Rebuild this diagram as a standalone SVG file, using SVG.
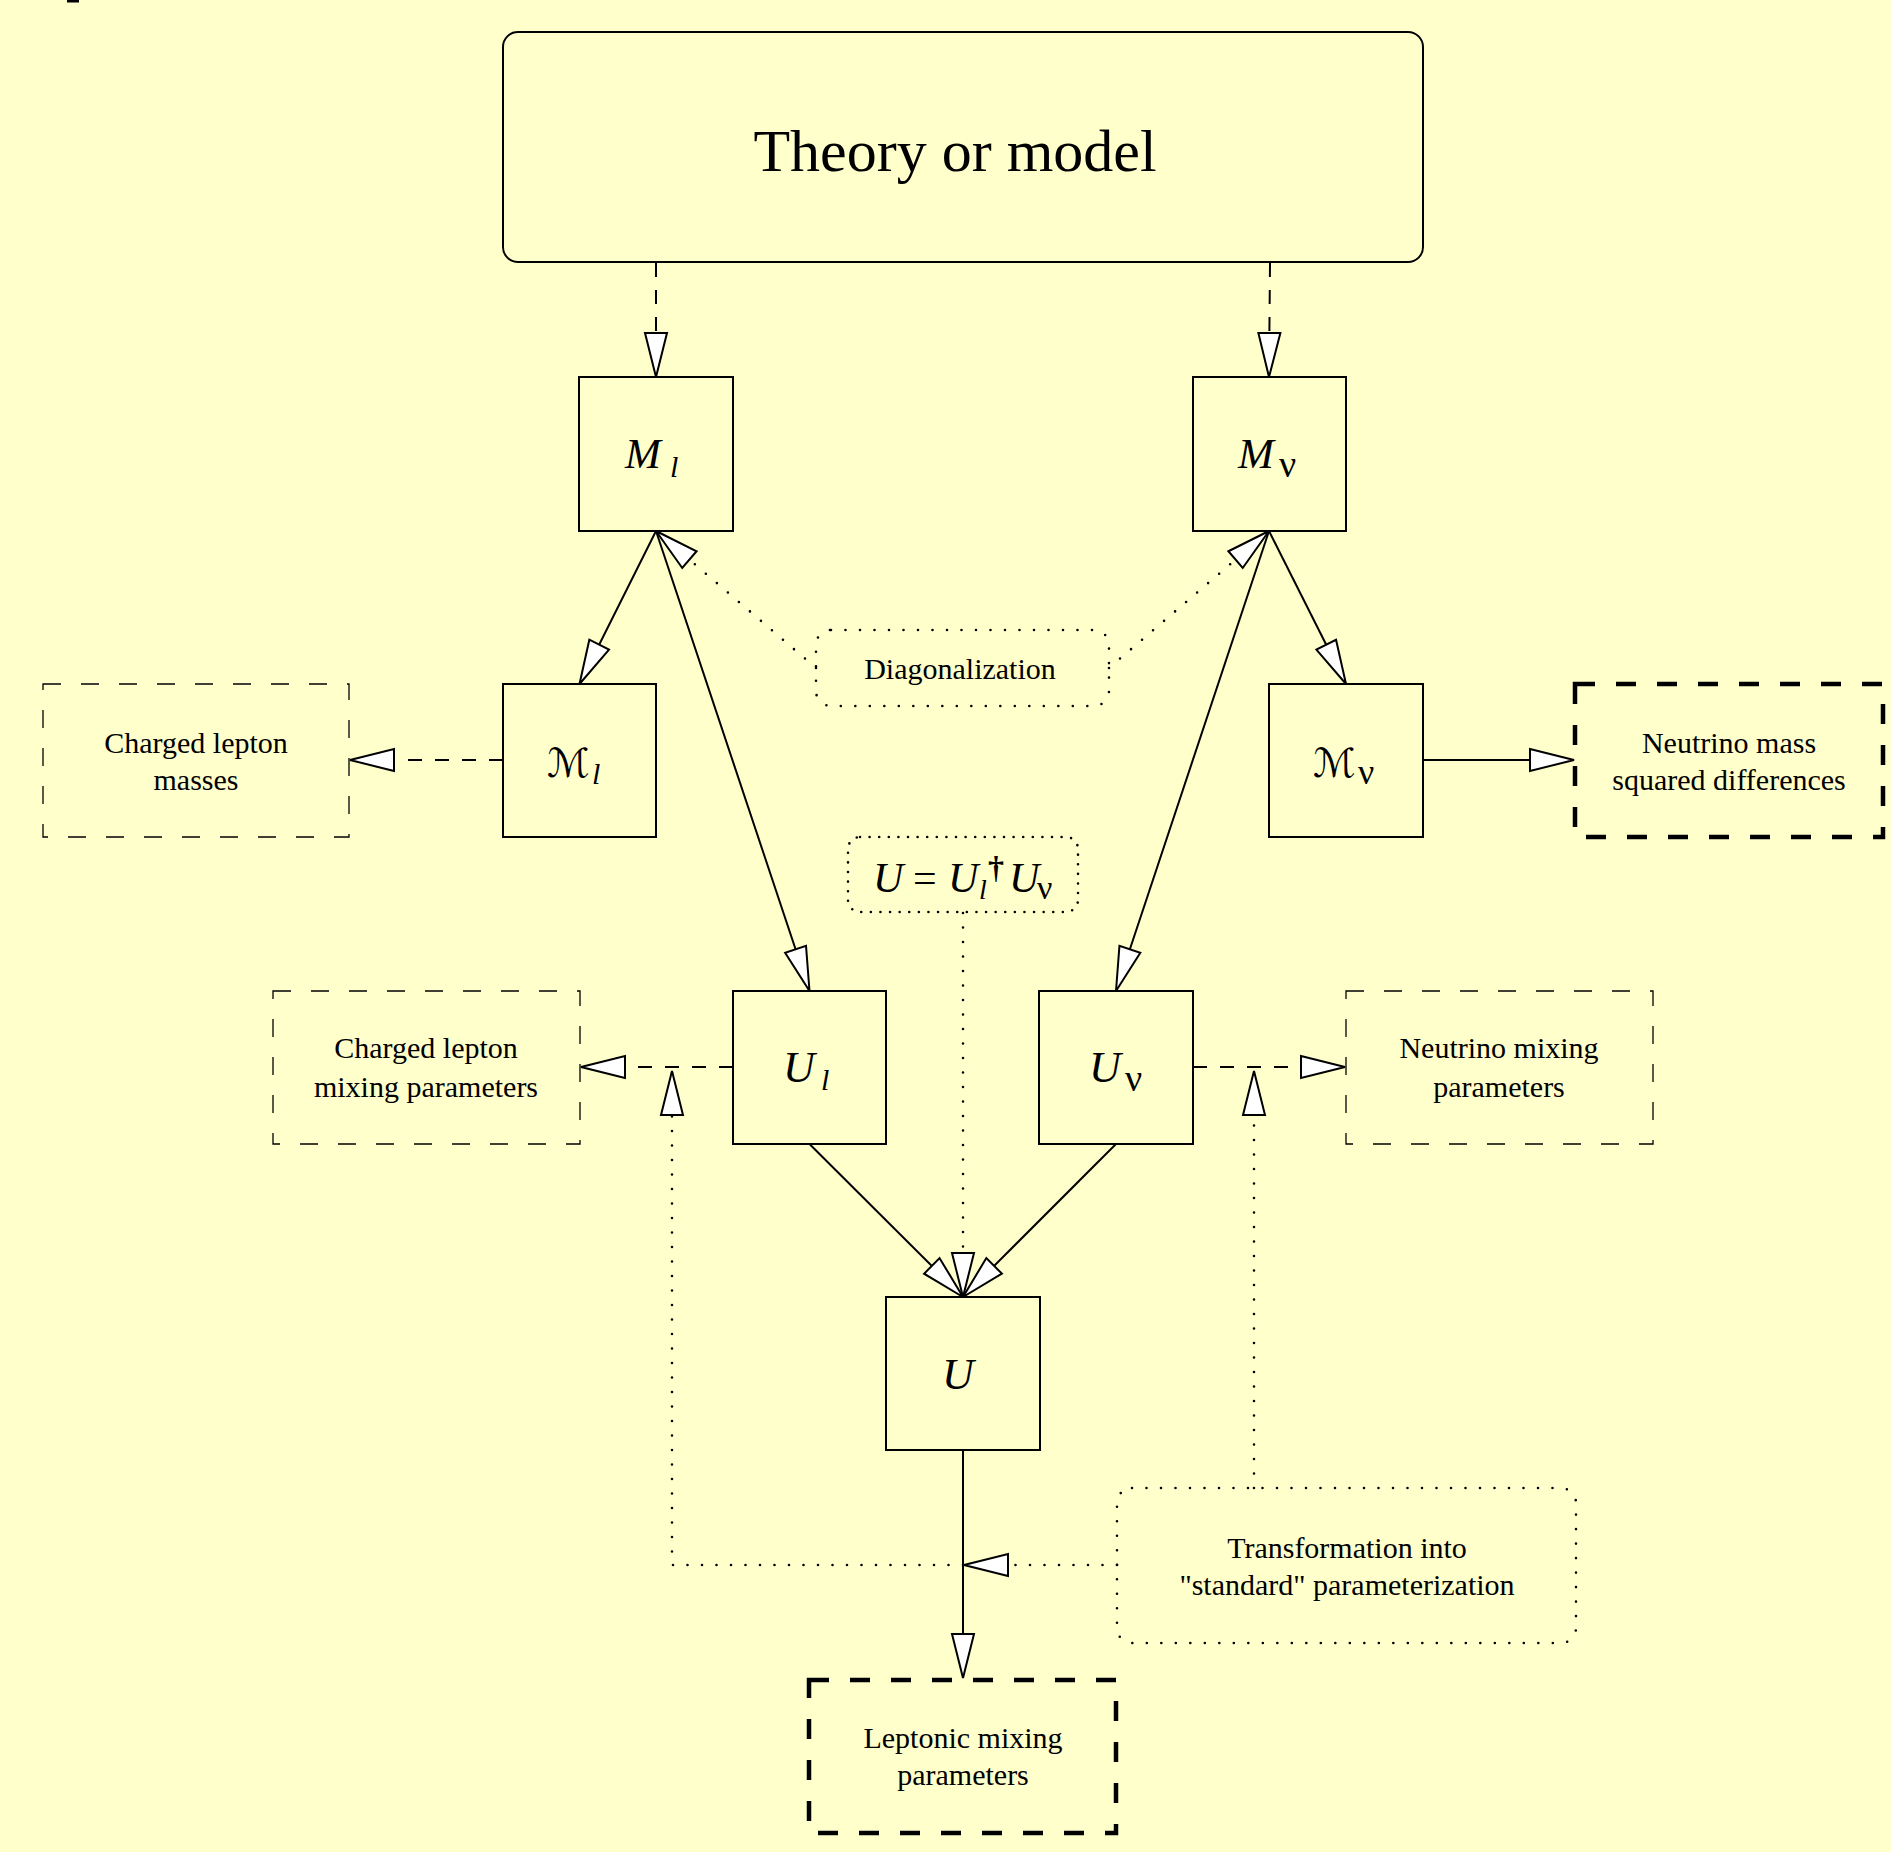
<svg xmlns="http://www.w3.org/2000/svg" width="1891" height="1852" viewBox="0 0 1891 1852">
<defs>
<style>
.box{fill:none;stroke:#000;stroke-width:2}
.thin{fill:none;stroke:#000;stroke-width:1.3;stroke-dasharray:18 20}
.thick{fill:none;stroke:#000;stroke-width:4.5;stroke-dasharray:20 21}
.dotbox{fill:none;stroke:#000;stroke-width:2.6;stroke-linecap:round;stroke-dasharray:0 14.5}
.dotbox2{fill:none;stroke:#000;stroke-width:2.6;stroke-linecap:round;stroke-dasharray:0 9.6}
.solid{fill:none;stroke:#000;stroke-width:2}
.dash{fill:none;stroke:#000;stroke-width:2;stroke-dasharray:14 13}
.dot{fill:none;stroke:#000;stroke-width:2.6;stroke-linecap:round;stroke-dasharray:0 14.5}
.t{font-family:"Liberation Serif","Times New Roman",serif;font-size:30px;fill:#000;text-anchor:middle}
.m{font-family:"Liberation Serif","Times New Roman",serif;font-style:italic;fill:#000}
.u{font-family:"Liberation Serif","Times New Roman",serif;fill:#000}
.cal{font-family:"DejaVu Serif","DejaVu Sans",serif;fill:#000}
</style>
<marker id="ah" viewBox="-2 -2 48 26" refX="44" refY="11" markerWidth="48" markerHeight="26" orient="auto" markerUnits="userSpaceOnUse">
<path d="M0,0 L44,11 L0,22 Z" fill="#fff" stroke="#000" stroke-width="2" stroke-dasharray="none"/>
</marker>
</defs>
<rect x="0" y="0" width="1891" height="1852" fill="#ffffcc"/>
<rect x="67" y="0" width="12" height="2.5" fill="#000"/>

<g id="connectors">
<path class="dash" d="M656,263 L656,377" marker-end="url(#ah)"/>
<path class="dash" d="M1270,263 L1269,377" marker-end="url(#ah)"/>
<path class="solid" d="M656,531 L579.5,684" marker-end="url(#ah)"/>
<path class="solid" d="M656,531 L809.5,991" marker-end="url(#ah)"/>
<path class="solid" d="M1269,531 L1346,684" marker-end="url(#ah)"/>
<path class="solid" d="M1269,531 L1116,991" marker-end="url(#ah)"/>
<path class="dot" d="M816,668 L656,531" marker-end="url(#ah)"/>
<path class="dot" d="M1109,668 L1269,531" marker-end="url(#ah)"/>
<path class="dash" d="M503,760 L350,760" marker-end="url(#ah)"/>
<path class="solid" d="M1423,760 L1574,760" marker-end="url(#ah)"/>
<path class="dash" d="M733,1067 L581,1067" marker-end="url(#ah)"/>
<path class="dash" d="M1193,1067 L1345,1067" marker-end="url(#ah)"/>
<path class="solid" d="M809.5,1144 L963,1297" marker-end="url(#ah)"/>
<path class="solid" d="M1116,1144 L963,1297" marker-end="url(#ah)"/>
<path class="dot" d="M963,913 L963,1297" marker-end="url(#ah)"/>
<path class="solid" d="M963,1450 L963,1678" marker-end="url(#ah)"/>
<path class="dot" d="M1117,1565 L964,1565" marker-end="url(#ah)"/>
<path class="dot" d="M963,1565 L672,1565 L672,1071" marker-end="url(#ah)"/>
<path class="dot" d="M1254,1488 L1254,1071" marker-end="url(#ah)"/>
</g>

<g id="theory">
<rect class="box" x="503" y="32" width="920" height="230" rx="15"/>
<text class="t" x="955" y="171" style="font-size:60px">Theory or model</text>
</g>
<g id="Ml">
<rect class="box" x="579" y="377" width="154" height="154"/>
<text class="m" x="625" y="468" font-size="43">M</text>
<text class="m" x="670" y="477" font-size="30">l</text>
</g>
<g id="Mnu">
<rect class="box" x="1193" y="377" width="153" height="154"/>
<text class="m" x="1238" y="468" font-size="43">M</text>
<text class="u" x="1279" y="477" font-size="38">ν</text>
</g>
<g id="diag">
<rect class="dotbox" x="816" y="630" width="293" height="76" rx="15"/>
<text class="t" x="960" y="679">Diagonalization</text>
</g>
<g id="calMl">
<rect class="box" x="503" y="684" width="153" height="153"/>
<text class="cal" x="547" y="777" font-size="40">ℳ</text>
<text class="m" x="592" y="784" font-size="30">l</text>
</g>
<g id="calMnu">
<rect class="box" x="1269" y="684" width="154" height="153"/>
<text class="cal" x="1313" y="777" font-size="40">ℳ</text>
<text class="u" x="1358" y="784" font-size="36">ν</text>
</g>
<g id="clmasses">
<rect class="thin" x="43" y="684" width="306" height="153"/>
<text class="t" x="196" y="753">Charged lepton</text>
<text class="t" x="196" y="790">masses</text>
</g>
<g id="numass">
<rect class="thick" x="1575" y="684" width="308" height="153"/>
<text class="t" x="1729" y="753">Neutrino mass</text>
<text class="t" x="1729" y="790">squared differences</text>
</g>
<g id="formula">
<rect class="dotbox2" x="848" y="837" width="230" height="75" rx="12"/>
<text class="m" x="873" y="892" font-size="42">U</text>
<text class="u" x="913" y="892" font-size="42">=</text>
<text class="m" x="948" y="892" font-size="42">U</text>
<text class="m" x="979" y="899" font-size="28">l</text>
<text class="u" x="988" y="878" font-size="32" font-weight="bold">†</text>
<text class="m" x="1009" y="892" font-size="42">U</text>
<text class="u" x="1037" y="899" font-size="34">ν</text>
</g>
<g id="Ul">
<rect class="box" x="733" y="991" width="153" height="153"/>
<text class="m" x="783" y="1082" font-size="44">U</text>
<text class="m" x="821" y="1090" font-size="30">l</text>
</g>
<g id="Unu">
<rect class="box" x="1039" y="991" width="154" height="153"/>
<text class="m" x="1089" y="1082" font-size="44">U</text>
<text class="u" x="1125" y="1091" font-size="38">ν</text>
</g>
<g id="clmix">
<rect class="thin" x="273" y="991" width="307" height="153"/>
<text class="t" x="426" y="1058">Charged lepton</text>
<text class="t" x="426" y="1097">mixing parameters</text>
</g>
<g id="numix">
<rect class="thin" x="1346" y="991" width="307" height="153"/>
<text class="t" x="1499" y="1058">Neutrino mixing</text>
<text class="t" x="1499" y="1097">parameters</text>
</g>
<g id="U">
<rect class="box" x="886" y="1297" width="154" height="153"/>
<text class="m" x="942" y="1389" font-size="44">U</text>
</g>
<g id="transform">
<rect class="dotbox" x="1117" y="1488" width="459" height="155" rx="15"/>
<text class="t" x="1347" y="1558">Transformation into</text>
<text class="t" x="1347" y="1595">"standard" parameterization</text>
</g>
<g id="leptonic">
<rect class="thick" x="809" y="1680" width="307" height="153"/>
<text class="t" x="963" y="1748">Leptonic mixing</text>
<text class="t" x="963" y="1785">parameters</text>
</g>
</svg>
